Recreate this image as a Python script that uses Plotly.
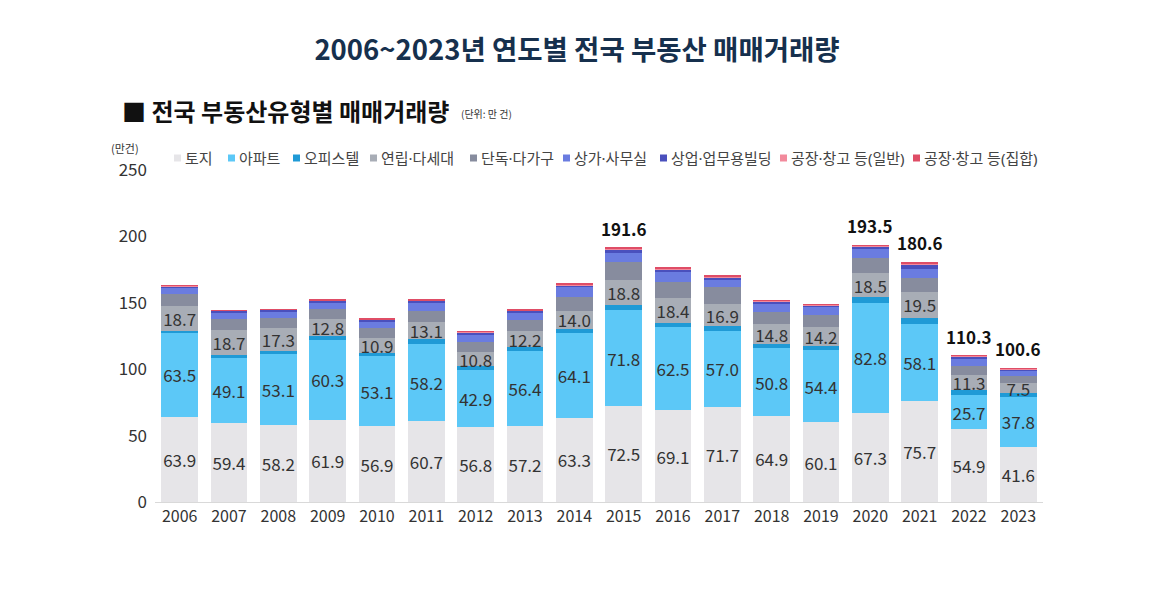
import plotly.graph_objects as go

years = [str(y) for y in range(2006, 2024)]

land = [63.9, 59.4, 58.2, 61.9, 56.9, 60.7, 56.8, 57.2, 63.3, 72.5, 69.1, 71.7, 64.9, 60.1, 67.3, 75.7, 54.9, 41.6]
apt = [63.5, 49.1, 53.1, 60.3, 53.1, 58.2, 42.9, 56.4, 64.1, 71.8, 62.5, 57.0, 50.8, 54.4, 82.8, 58.1, 25.7, 37.8]
officetel = [1.5, 2.5, 2.5, 2.5, 2.5, 3.5, 2.5, 2.8, 2.8, 4.3, 3.4, 3.5, 3.3, 3.2, 4.0, 5.0, 3.8, 2.5]
rowhouse = [18.7, 18.7, 17.3, 12.8, 10.9, 13.1, 10.8, 12.2, 14.0, 18.8, 18.4, 16.9, 14.8, 14.2, 18.5, 19.5, 11.3, 7.5]
detached = [9.3, 8.3, 7.5, 8.0, 7.5, 8.5, 7.8, 8.5, 10.0, 13.6, 12.5, 12.5, 9.5, 9.2, 11.0, 10.5, 6.5, 5.5]
shop = [4.5, 4.8, 4.8, 5.0, 5.2, 6.2, 5.6, 5.7, 7.5, 6.3, 7.5, 6.3, 6.3, 5.8, 7.0, 6.3, 5.5, 4.0]
commercial = [1.0, 1.2, 1.3, 1.2, 1.2, 1.3, 1.3, 1.2, 1.6, 3.0, 2.0, 1.5, 1.5, 1.2, 2.0, 4.0, 1.8, 1.2]
factory_gen = [0.3, 0.3, 0.3, 0.4, 0.4, 0.5, 0.4, 0.4, 0.5, 0.7, 0.5, 0.5, 0.5, 0.5, 0.6, 0.8, 0.5, 0.3]
factory_col = [0.2, 0.2, 0.2, 0.2, 0.2, 0.3, 0.2, 0.2, 0.4, 0.6, 0.5, 0.4, 0.4, 0.3, 0.3, 0.7, 0.3, 0.2]
totals_shown = [None, None, None, None, None, None, None, None, None, 191.6, None, None, None, None, 193.5, 180.6, 110.3, 100.6]

series = [
    ("토지", land, "#e6e5e8", True),
    ("아파트", apt, "#5cc8f7", True),
    ("오피스텔", officetel, "#1f9ad6", False),
    ("연립·다세대", rowhouse, "#a8adb6", True),
    ("단독·다가구", detached, "#878c9e", False),
    ("상가·사무실", shop, "#6a7ce0", False),
    ("상업·업무용빌딩", commercial, "#4a50bd", False),
    ("공장·창고 등(일반)", factory_gen, "#f28a9c", False),
    ("공장·창고 등(집합)", factory_col, "#df4d66", False),
]

FONT = "Noto Sans CJK KR"
LFONT = "Noto Sans, Noto Sans CJK KR"
fig = go.Figure()
for name, vals, color, labeled in series:
    fig.add_trace(go.Bar(
        x=years, y=vals, name=name, marker=dict(color=color, line=dict(width=0)),
        text=[f"{v:.1f}" for v in vals] if labeled else None,
        textposition="inside" if labeled else "none",
        insidetextanchor="middle", textangle=0,
        textfont=dict(family=FONT, size=17, color="#333333"),
        showlegend=False, hoverinfo="x+y+name",
    ))

stack_tot = [sum(s[1][i] for s in series) for i in range(len(years))]

# the page body adds an 8px offset; work in reference pixels and subtract it
OFF = 8
W, H = 1162 - OFF, 612 - OFF
PL, PR, PT, PB = 155 - OFF, 1043 - OFF, 170 - OFF, 502 - OFF
def px(x):
    return (x - OFF - PL) / (PR - PL)
def py(y):
    return (PB - (y - OFF)) / (PB - PT)

annotations = []
shapes = []

for i, (top, lab) in enumerate(zip(stack_tot, totals_shown)):
    if lab is not None:
        annotations.append(dict(x=i, y=top, xref="x", yref="y", text=f"<b>{lab:.1f}</b>", showarrow=False,
                                yanchor="bottom", yshift=5,
                                font=dict(family=FONT, size=17, color="#111111")))

annotations.append(dict(xref="paper", yref="paper", x=px(120), y=py(110), xanchor="left", yanchor="middle",
                        text="<b>■ 전국 부동산유형별 매매거래량</b>", showarrow=False,
                        font=dict(family=FONT, size=24, color="#111111")))
annotations.append(dict(xref="paper", yref="paper", x=px(459), y=py(113), xanchor="left", yanchor="middle",
                        text="(단위: 만 건)", showarrow=False,
                        font=dict(family=FONT, size=10, color="#333333")))
annotations.append(dict(xref="paper", yref="paper", x=px(125), y=py(148), xanchor="center", yanchor="middle",
                        text="(만건)", showarrow=False,
                        font=dict(family=FONT, size=11, color="#333333")))

leg_sq_x = [174, 228, 293, 370, 470, 563, 660, 780, 913]
for (name, vals, color, labeled), sx in zip(series, leg_sq_x):
    shapes.append(dict(type="rect", xref="paper", yref="paper",
                       x0=px(sx), x1=px(sx + 7), y0=py(161.5), y1=py(154.5),
                       fillcolor=color, line=dict(width=0)))
    annotations.append(dict(xref="paper", yref="paper", x=px(sx + 9), y=py(158), xanchor="left", yanchor="middle",
                            text=name, showarrow=False,
                            font=dict(family=LFONT, size=15, color="#444444")))

fig.update_layout(
    width=W, height=H,
    margin=dict(l=PL, r=W - PR, t=PT, b=H - PB),
    paper_bgcolor="white", plot_bgcolor="white",
    barmode="stack", bargap=0.26,
    title=dict(text="<b>2006~2023년 연도별 전국 부동산 매매거래량</b>", x=(577 - OFF) / W, xref="container",
               y=1 - (50 - OFF) / H, yref="container", xanchor="center", yanchor="middle",
               font=dict(family=FONT, size=27.5, color="#16304d")),
    xaxis=dict(type="category", showgrid=False, showline=True, linecolor="#d9d9d9", linewidth=1, ticks="",
               tickfont=dict(family=FONT, size=16, color="#333333"), range=[-0.5, 17.5]),
    yaxis=dict(range=[0, 250], tickvals=[0, 50, 100, 150, 200, 250], showgrid=False, zeroline=False,
               tickfont=dict(family=FONT, size=17, color="#333333"), ticklabelstandoff=7),
    annotations=annotations, shapes=shapes,
    uniformtext=dict(mode="show", minsize=17),
)

fig.write_html("out.html")
